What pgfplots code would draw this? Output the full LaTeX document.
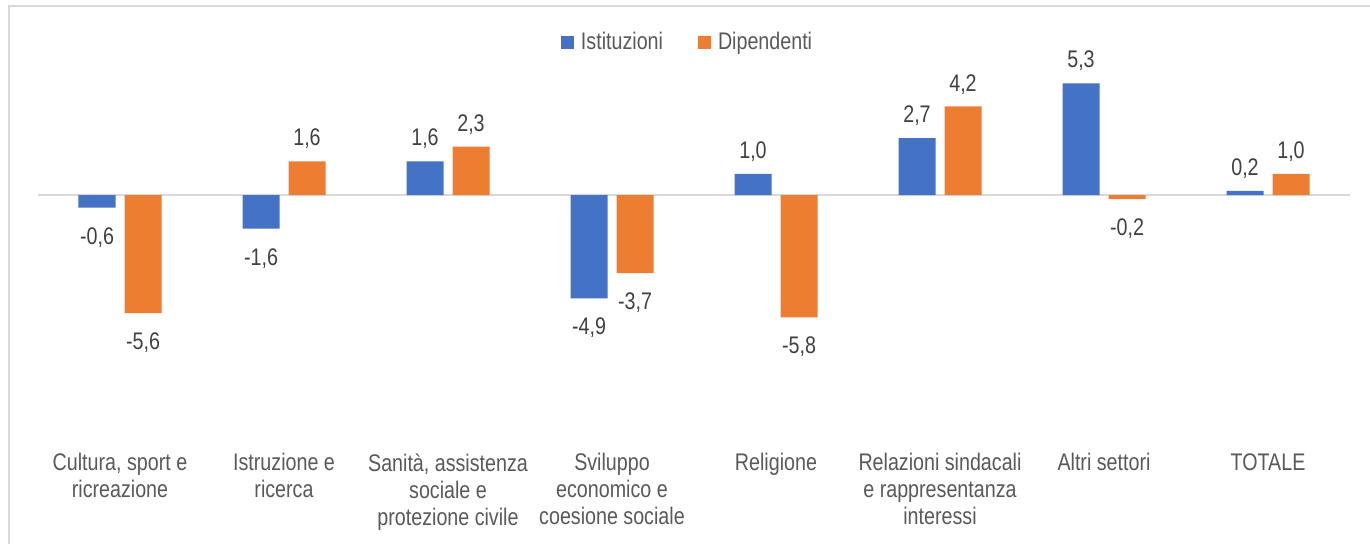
\documentclass[border=0pt]{standalone}
\usepackage{pgfplots}
\pgfplotsset{compat=1.18}
\usepackage{fontspec}
\setmainfont{Liberation Sans}[FakeStretch=0.82]
\definecolor{ist}{HTML}{4472C4}
\definecolor{dip}{HTML}{ED7D31}
\definecolor{lbl}{HTML}{404040}
\definecolor{cat}{HTML}{595959}
\definecolor{frame}{HTML}{D9D9D9}

\begin{document}
% 1 px of the reference = 0.5pt
\begin{tikzpicture}
\useasboundingbox (0pt,0pt) rectangle (685pt,272pt);
\draw[frame, line width=1pt] (4.5pt,-5pt) -- (4.5pt,269pt) -- (690pt,269pt);
\begin{axis}[
    at={(19pt,49.5pt)}, anchor=south west,
    scale only axis,
    width=656pt, height=207.5pt,
    ybar=4.5pt, bar width=18.5pt,
    xmin=-0.5, xmax=7.5,
    ymin=-11.86, ymax=7.83,
    axis line style={draw=none},
    ytick=\empty,
    xtick={0,...,7},
    major tick length=0pt,
    xticklabels={{Cultura, sport e\\ricreazione},{Istruzione e\\ricerca},{Sanità, assistenza\\sociale e\\protezione civile},{Sviluppo\\economico e\\coesione sociale},{Religione},{Relazioni sindacali\\e rappresentanza\\interessi},{Altri settori},{TOTALE}},
    xticklabel style={align=center, anchor=north, inner sep=0pt, yshift=-4pt,
        font=\fontsize{12}{13.5}\selectfont, text=cat},
    nodes near coords,
    every node near coord/.append style={font=\fontsize{12}{13.5}\selectfont, text=lbl,
        inner xsep=0pt, inner ysep=6.5pt, text height=11.6pt, text depth=1pt},
    /pgf/number format/.cd, fixed, fixed zerofill, precision=1, use comma, assume math mode=true,
    /pgfplots/.cd,
    legend columns=2,
    legend style={at={(0.497,1.005)}, anchor=north, draw=none, fill=none,
        font=\fontsize{12}{13.5}\selectfont, text=cat,
        nodes={inner xsep=3.5pt, inner ysep=0pt},
        /tikz/every even column/.append style={column sep=14pt}},
    legend image code/.code={\fill[#1] (0pt,-3.25pt) rectangle (6.5pt,3.25pt);},
]
\draw[frame, line width=1pt] (axis cs:-0.5,0) -- (axis cs:7.5,0);
\addplot[fill=ist, draw=none] coordinates {
    (0,-0.6) (1,-1.6) (2,1.6) (3,-4.9) (4,1.0) (5,2.7) (6,5.3) (7,0.2)};
\addplot[fill=dip, draw=none] coordinates {
    (0,-5.6) (1,1.6) (2,2.3) (3,-3.7) (4,-5.8) (5,4.2) (6,-0.2) (7,1.0)};
\legend{Istituzioni, Dipendenti}
\end{axis}
\end{tikzpicture}
\end{document}
